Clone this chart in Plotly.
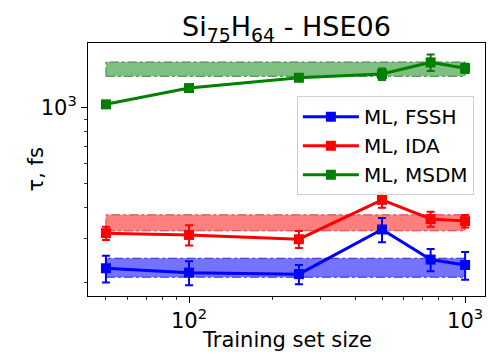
import plotly.graph_objects as go

# Training set sizes
sizes = [50, 100, 250, 500, 750, 1000]

# Decoherence / relaxation times (fs) and their uncertainties
fssh = [228, 219, 216, 326, 247, 235]
fssh_err = [28, 24, 19, 36, 25, 30]
ida = [315, 310, 298, 428, 359, 352]
ida_err = [19, 29, 23, 30, 25, 20]
msdm = [1032, 1199, 1318, 1364, 1519, 1438]
msdm_err = [15, 25, 30, 73, 115, 60]

# Reference (non-ML) bands: lower, upper
fssh_band = [210, 250]
ida_band = [322, 373]
msdm_band = [1336, 1524]

# Tick positions and labels on the log axes
x_major = [100, 1000]
x_major_text = ["10<sup>2</sup>", "10<sup>3</sup>"]
y_major = [1000]
y_major_text = ["10<sup>3</sup>"]
x_minor = [50, 60, 70, 80, 90, 200, 300, 400, 500, 600, 700, 800, 900]
y_minor = [200, 300, 400, 500, 600, 700, 800, 900]

series = [
    ("ML, FSSH", fssh, fssh_err, fssh_band, "#0000ff", "rgba(0,0,255,0.55)", "#3030c0"),
    ("ML, IDA", ida, ida_err, ida_band, "#ff0000", "rgba(255,0,0,0.5)", "#d04040"),
    ("ML, MSDM", msdm, msdm_err, msdm_band, "#008000", "rgba(0,128,0,0.5)", "#408040"),
]

fig = go.Figure()

# shaded reference bands
for name, y, err, band, col, fillcol, edge in series:
    x0, x1 = sizes[0], sizes[-1]
    fig.add_trace(go.Scatter(
        x=[x0, x1, x1, x0, x0],
        y=[band[0], band[0], band[1], band[1], band[0]],
        fill="toself", fillcolor=fillcol, mode="lines",
        line=dict(color=edge, width=1, dash="dashdot"),
        showlegend=False, hoverinfo="skip"))

for name, y, err, band, col, fillcol, edge in series:
    fig.add_trace(go.Scatter(
        x=sizes, y=y, name=name, mode="lines+markers",
        line=dict(color=col, width=3),
        marker=dict(symbol="square", size=10, color=col),
        error_y=dict(type="data", array=err, color=col, thickness=2, width=4)))

font = "DejaVu Sans, Arial, sans-serif"
fig.update_layout(
    width=488, height=353,
    margin=dict(l=88, r=3, t=43, b=57),
    paper_bgcolor="white", plot_bgcolor="white",
    font=dict(family=font, size=20, color="black"),
    title=dict(text="Si<sub>75</sub>H<sub>64</sub> - HSE06",
               x=0.5, xref="paper", xanchor="center",
               y=1 - 27 / 353, yref="container", yanchor="middle",
               font=dict(size=27, family=font, color="black")),
    legend=dict(x=0.972, xanchor="right", y=0.79, yanchor="top",
                bgcolor="rgba(255,255,255,0.85)", bordercolor="#d0d0d0",
                borderwidth=1, font=dict(size=20, family=font),
                tracegroupgap=0, itemwidth=56),
    showlegend=True,
    annotations=[
        dict(text="Training set size", xref="paper", yref="paper",
             x=0.5, y=-0.174, xanchor="center", yanchor="middle",
             showarrow=False, font=dict(size=21, family=font)),
        dict(text="τ, fs", xref="paper", yref="paper",
             x=-0.131, y=0.5, xanchor="center", yanchor="middle",
             textangle=-90, showarrow=False, font=dict(size=21, family=font)),
    ],
)
fig.update_xaxes(
    type="log", range=[1.634, 3.072],
    tickmode="array", tickvals=x_major, ticktext=x_major_text,
    showgrid=False, zeroline=False, automargin=False,
    showline=True, linecolor="black", linewidth=1, mirror=True,
    ticks="outside", ticklen=6, tickcolor="black",
    minor=dict(tickmode="array", tickvals=x_minor, ticks="outside",
               ticklen=3, tickcolor="#333", showgrid=False),
    tickfont=dict(size=21),
)
fig.update_yaxes(
    type="log", range=[2.247, 3.259],
    tickmode="array", tickvals=y_major, ticktext=y_major_text,
    showgrid=False, zeroline=False, automargin=False,
    showline=True, linecolor="black", linewidth=1, mirror=True,
    ticks="outside", ticklen=6, tickcolor="black",
    minor=dict(tickmode="array", tickvals=y_minor, ticks="outside",
               ticklen=3, tickcolor="#333", showgrid=False),
    tickfont=dict(size=21),
)

fig.write_html("out.html")
